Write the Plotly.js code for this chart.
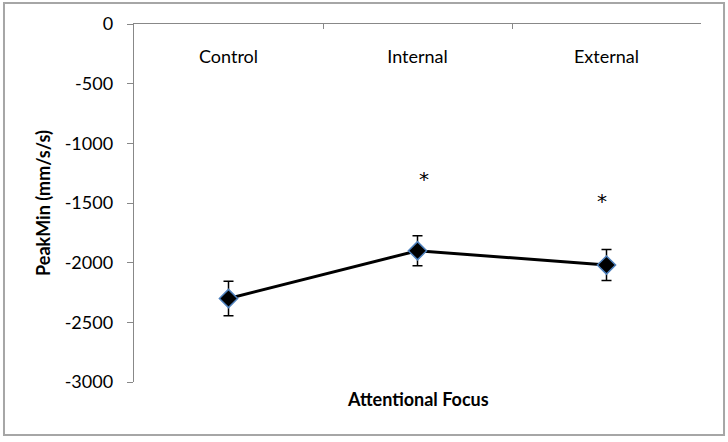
<!DOCTYPE html>
<html>
<head>
<meta charset="utf-8">
<script src="https://cdn.plot.ly/plotly-3.0.1.min.js"></script>
<style>
html,body{margin:0;padding:0;background:#fff;}
#chart{width:728px;height:442px;}
</style>
</head>
<body>
<div id="chart"></div>
<script>
// Data
const categories = ["Control", "Internal", "External"];
const peakMin = [-2300, -1900, -2020];
const errors = [145, 125, 130];
const sigLabels = ["", "*", "*"];
const sigY = [null, -1300, -1485];
const yTicks = [0, -500, -1000, -1500, -2000, -2500, -3000];

const font = "Lato, 'Open Sans', sans-serif";

const trace = {
  x: categories,
  y: peakMin,
  type: "scatter",
  mode: "lines+markers",
  line: {color: "#000000", width: 3},
  marker: {symbol: "diamond", size: 14, color: "#000000", line: {color: "#4F81BD", width: 1.5}},
  error_y: {type: "data", array: errors, visible: true, color: "#000000", thickness: 1.5, width: 5},
  hoverinfo: "none",
  showlegend: false
};

// carrier for the category labels (drawn just below the top axis line)
const labelTrace = {
  x: categories, y: peakMin, xaxis: "x2", yaxis: "y",
  type: "scatter", mode: "none", hoverinfo: "none", showlegend: false
};

const annotations = [];
categories.forEach((c, i) => {
  if (sigLabels[i]) {
    annotations.push({
      x: c, y: sigY[i], xref: "x", yref: "y", text: sigLabels[i], showarrow: false,
      xshift: i === 1 ? 6 : -5,
      font: {family: "'DejaVu Sans', sans-serif", size: 20, color: "#000000"}
    });
  }
});
annotations.push({
  x: 0.5, y: -0.012, xref: "paper", yref: "paper", yanchor: "top", text: "<b>Attentional Focus</b>",
  showarrow: false, font: {family: font, size: 18, color: "#000"}
});

const layout = {
  width: 728, height: 442,
  margin: {l: 134, r: 27, t: 24, b: 60},
  paper_bgcolor: "#fff", plot_bgcolor: "#fff",
  font: {family: font, size: 18, color: "#000"},
  xaxis: {
    type: "category", side: "top", range: [-0.5, 2.5],
    showline: true, linecolor: "#888", linewidth: 1.3,
    ticks: "inside", tickson: "boundaries", ticklen: 5, tickcolor: "#888",
    showticklabels: false,
    showgrid: false, zeroline: false, fixedrange: true
  },
  xaxis2: {
    type: "category", overlaying: "x", anchor: "free", position: 0.945, side: "bottom",
    range: [-0.5, 2.5], showline: false, ticks: "", showgrid: false, zeroline: false,
    fixedrange: true, tickfont: {family: font, size: 18, color: "#000"}
  },
  yaxis: {
    range: [-3000, 0], tickvals: yTicks, ticktext: yTicks.map(String),
    showline: true, linecolor: "#888", linewidth: 1.3,
    ticks: "outside", ticklen: 6, tickcolor: "#888",
    ticklabelstandoff: 10,
    showgrid: false, zeroline: false, fixedrange: true,
    tickfont: {family: font, size: 18, color: "#000"},
    title: {text: "<b>PeakMin (mm/s/s)</b>", font: {family: font, size: 18, color: "#000"}, standoff: 9}
  },
  shapes: [{
    type: "rect", xref: "paper", yref: "paper",
    x0: -0.2293, x1: 1.0406, y0: -0.148, y1: 1.0587,
    line: {color: "#a6a6a6", width: 2}, fillcolor: "rgba(0,0,0,0)", layer: "below"
  }],
  annotations: annotations
};

Plotly.newPlot("chart", [labelTrace, trace], layout, {displayModeBar: false, staticPlot: true});
</script>
</body>
</html>
